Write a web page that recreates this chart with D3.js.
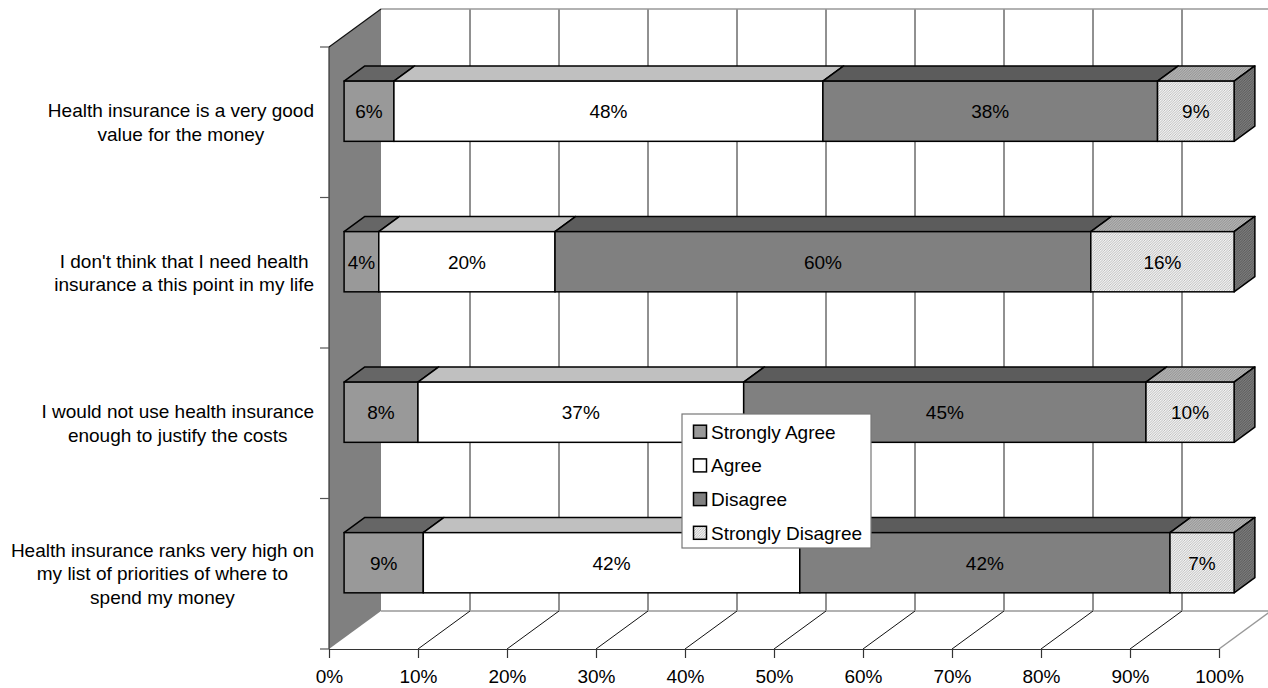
<!DOCTYPE html>
<html>
<head>
<meta charset="utf-8">
<script src="https://cdn.jsdelivr.net/npm/d3@7"></script>
<style>
  html, body { margin: 0; padding: 0; background: #fff; }
  svg { display: block; font-family: "Liberation Sans", Arial, sans-serif; }
</style>
</head>
<body>
<script>
// Survey statements (one row each, top to bottom), split into display lines
const categoryLines = [
  ["Health insurance is a very good", "value for the money"],
  ["I don't think that I need health", "insurance a this point in my life"],
  ["I would not use health insurance", "enough to justify the costs"],
  ["Health insurance ranks very high on", "my list of priorities of where to", "spend my money"]
];

const seriesNames = ["Strongly Agree", "Agree", "Disagree", "Strongly Disagree"];

// Share of respondents (%) per statement
const stronglyAgree    = [5.6, 3.9, 8.3, 8.9];
const agree            = [48.2, 19.8, 36.6, 42.3];
const disagree         = [37.6, 60.2, 45.2, 41.6];
const stronglyDisagree = [8.6, 16.1, 9.9, 7.2];

const xTicks = [0, 10, 20, 30, 40, 50, 60, 70, 80, 90, 100];

// ---------------------------------------------------------------
const W = 1268, H = 688;
const svg = d3.select("body").append("svg").attr("width", W).attr("height", H);

// front plane of the 3-D box and its depth offset
const plotLeft = 329, plotRight = 1219, plotTop = 47, plotBottom = 649;
const DX = 52, DY = -38;
const zFront = 0.29, zBack = 0.69;   // depth span occupied by the bars

const x = d3.scaleLinear().domain([0, 100]).range([plotLeft, plotRight]);
const y = d3.scaleBand().domain(d3.range(categoryLines.length)).range([plotTop, plotBottom]);

const table = categoryLines.map((_, i) => ({
  "Strongly Agree": stronglyAgree[i],
  "Agree": agree[i],
  "Disagree": disagree[i],
  "Strongly Disagree": stronglyDisagree[i]
}));
const stacked = d3.stack().keys(seriesNames)(table);

// ---- hatch patterns for "Strongly Disagree"
const defs = svg.append("defs");
function hatch(id, bg, line) {
  const p = defs.append("pattern").attr("id", id)
    .attr("patternUnits", "userSpaceOnUse").attr("width", 2.5).attr("height", 2.5);
  p.append("rect").attr("width", 2.5).attr("height", 2.5).attr("fill", bg);
  p.append("path").attr("d", "M-1,1 L1,-1 M0,2.5 L2.5,0 M1.5,3.5 L3.5,1.5")
    .attr("stroke", line).attr("stroke-width", 0.7);
}
hatch("sdFront", "#f2f2f2", "#a8a8a8");
hatch("sdTop", "#b4b4b4", "#828282");
hatch("sdSide", "#7c7c7c", "#4a4a4a");

const faces = {
  "Strongly Agree":    { front: "#999999", top: "#666666", side: "#555555" },
  "Agree":             { front: "#ffffff", top: "#c0c0c0", side: "#999999" },
  "Disagree":          { front: "#808080", top: "#5c5c5c", side: "#444444" },
  "Strongly Disagree": { front: "url(#sdFront)", top: "url(#sdTop)", side: "url(#sdSide)" }
};

const pts = a => a.map(p => p.join(",")).join(" ");

// ---- back wall
const backL = plotLeft + DX, backT = plotTop + DY, backB = plotBottom + DY, backR = plotRight + DX;
svg.append("rect").attr("x", backL).attr("y", backT)
  .attr("width", backR - backL).attr("height", backB - backT).attr("fill", "#fff");

// vertical gridlines on back wall
svg.append("g").selectAll("line").data(xTicks.slice(1, -1)).join("line")
  .attr("x1", d => x(d) + DX).attr("x2", d => x(d) + DX)
  .attr("y1", backT).attr("y2", backB)
  .attr("stroke", "#222").attr("stroke-width", 1);

// back wall top and floor back edge
svg.append("line").attr("x1", backL).attr("x2", backR).attr("y1", backT).attr("y2", backT)
  .attr("stroke", "#999").attr("stroke-width", 1.5);
svg.append("line").attr("x1", backL).attr("x2", backR).attr("y1", backB).attr("y2", backB)
  .attr("stroke", "#999").attr("stroke-width", 1.5);

// floor lines from front ticks to back gridlines
svg.append("g").selectAll("line").data(xTicks.slice(1)).join("line")
  .attr("x1", d => x(d)).attr("y1", plotBottom)
  .attr("x2", d => x(d) + DX).attr("y2", plotBottom + DY)
  .attr("stroke", d => d === 100 ? "#999" : "#111")
  .attr("stroke-width", d => d === 100 ? 1.5 : 1);

// ---- left wall
svg.append("polygon")
  .attr("points", pts([[plotLeft, plotTop], [backL, backT], [backL, backB], [plotLeft, plotBottom]]))
  .attr("fill", "#808080");
svg.append("line").attr("x1", plotLeft).attr("y1", plotTop).attr("x2", backL).attr("y2", backT)
  .attr("stroke", "#111").attr("stroke-width", 1.2);
svg.append("line").attr("x1", plotLeft).attr("y1", plotTop).attr("x2", plotLeft).attr("y2", plotBottom)
  .attr("stroke", "#333").attr("stroke-width", 1.2);

// category ticks on the left edge
const catBounds = y.domain().map(i => y(i)).concat([plotBottom]);
svg.append("g").selectAll("line").data(catBounds).join("line")
  .attr("x1", plotLeft - 9).attr("x2", plotLeft).attr("y1", d => d).attr("y2", d => d)
  .attr("stroke", "#555").attr("stroke-width", 1.2);

// ---- x axis
const xAxis = d3.axisBottom(x).tickValues(xTicks).tickFormat(d => d + "%")
  .tickSize(9).tickSizeOuter(0).tickPadding(11.5);
const gx = svg.append("g").attr("transform", `translate(0,${plotBottom})`).call(xAxis);
gx.select(".domain").attr("stroke", "#333").attr("stroke-width", 1.2);
gx.selectAll(".tick line").attr("stroke", "#333").attr("stroke-width", 1.2);
gx.selectAll(".tick text").attr("font-size", 19).attr("fill", "#000")
  .attr("font-family", "Liberation Sans, Arial, sans-serif");

// ---- category labels
const labelRight = 314, lineH = 23.5;
const labels = svg.append("g").attr("font-size", 19).attr("fill", "#000");
categoryLines.forEach((lines, i) => {
  const cy = y(i) + y.bandwidth() / 2;
  const g = labels.append("g");
  const texts = g.selectAll("text").data(lines).join("text")
    .attr("text-anchor", "middle")
    .attr("y", (d, k) => cy + (k - (lines.length - 1) / 2) * lineH + 6.5)
    .text(d => d);
  let maxW = 0;
  texts.each(function () { maxW = Math.max(maxW, this.getComputedTextLength()); });
  texts.attr("x", labelRight - maxW / 2);
});

// ---- 3-D bars
const barH = y.bandwidth() * 0.4;
const dd = DX * (zBack - zFront), dz = DY * (zBack - zFront);
const bars = svg.append("g");
categoryLines.forEach((_, i) => {
  const yc = y(i) + y.bandwidth() / 2 + DY * zFront;
  const yt = yc - barH / 2, yb = yc + barH / 2;
  const g = bars.append("g");
  stacked.forEach((s, si) => {
    const key = s.key;
    const [v0, v1] = s[i];
    const xa = x(v0) + DX * zFront, xb = x(v1) + DX * zFront;
    const f = faces[key];
    // top face
    g.append("polygon")
      .attr("points", pts([[xa, yt], [xb, yt], [xb + dd, yt + dz], [xa + dd, yt + dz]]))
      .attr("fill", f.top).attr("stroke", "#000").attr("stroke-width", 1.5)
      .attr("stroke-linejoin", "round");
    // right side face for the last segment
    if (si === stacked.length - 1) {
      g.append("polygon")
        .attr("points", pts([[xb, yt], [xb + dd, yt + dz], [xb + dd, yb + dz], [xb, yb]]))
        .attr("fill", f.side).attr("stroke", "#000").attr("stroke-width", 1.5)
        .attr("stroke-linejoin", "round");
    }
    // front face
    g.append("rect").attr("x", xa).attr("y", yt).attr("width", xb - xa).attr("height", barH)
      .attr("fill", f.front).attr("stroke", "#000").attr("stroke-width", 1.5);
    // value label
    g.append("text").attr("x", (xa + xb) / 2).attr("y", yc + 7)
      .attr("text-anchor", "middle").attr("font-size", 19).attr("fill", "#000")
      .text(Math.round(v1 - v0) + "%");
  });
});

// ---- legend
const legX = 682, legY = 414, legW = 189, legH = 134, rowH = 33.7;
const leg = svg.append("g");
leg.append("rect").attr("x", legX).attr("y", legY).attr("width", legW).attr("height", legH)
  .attr("fill", "#fff").attr("stroke", "#777").attr("stroke-width", 1.2);
seriesNames.forEach((name, k) => {
  const cy = legY + 17.7 + k * rowH;
  leg.append("rect").attr("x", 693.5).attr("y", cy - 6.5).attr("width", 13).attr("height", 13)
    .attr("fill", faces[name].front).attr("stroke", "#000").attr("stroke-width", 1.5);
  leg.append("text").attr("x", 711).attr("y", cy + 6.8)
    .attr("font-size", 19).attr("fill", "#000").text(name);
});
</script>
</body>
</html>
